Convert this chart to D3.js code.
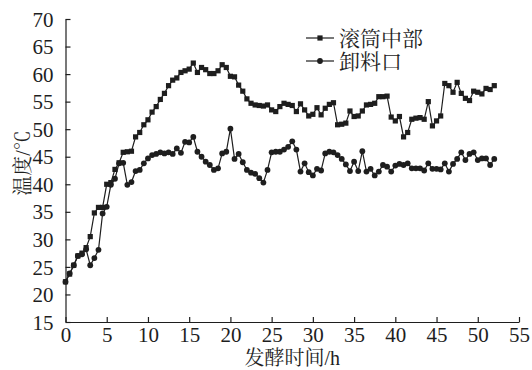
<!DOCTYPE html>
<html>
<head>
<meta charset="utf-8">
<script src="https://cdn.jsdelivr.net/npm/d3@7/dist/d3.min.js"></script>
<style>
  body { margin: 0; background: #fff; }
</style>
</head>
<body>
<svg id="chart"></svg>
<script>
// sampling times (h)
const hours = [
  0, 0.5, 1, 1.5, 2, 2.5, 3, 3.5, 4, 4.5, 5, 5.5, 6, 6.5, 7, 7.5, 8, 8.5, 9, 9.5,
  10, 10.5, 11, 11.5, 12, 12.5, 13, 13.5, 14, 14.5, 15, 15.5, 16, 16.5, 17, 17.5, 18, 18.5, 19, 19.5,
  20, 20.5, 21, 21.5, 22, 22.5, 23, 23.5, 24, 24.5, 25, 25.5, 26, 26.5, 27, 27.5, 28, 28.5, 29, 29.5,
  30, 30.5, 31, 31.5, 32, 32.5, 33, 33.5, 34, 34.5, 35, 35.5, 36, 36.5, 37, 37.5, 38, 38.5, 39, 39.5,
  40, 40.5, 41, 41.5, 42, 42.5, 43, 43.5, 44, 44.5, 45, 45.5, 46, 46.5, 47, 47.5, 48, 48.5, 49, 49.5,
  50, 50.5, 51, 51.5, 52
];

// 滚筒中部
const drumMiddle = [
  22.3, 23.7, 25.3, 27.0, 27.5, 28.5, 30.5, 34.8, 35.8, 35.8, 40.0, 40.3, 42.7, 43.9, 45.8, 45.9, 46.0, 48.6, 49.4, 50.8,
  51.7, 53.1, 54.1, 55.4, 56.5, 57.9, 58.9, 59.3, 60.3, 60.6, 60.9, 62.0, 60.3, 61.2, 60.8, 60.1, 60.1, 60.6, 61.7, 61.2,
  59.6, 59.5, 58.0, 56.9, 55.5, 54.7, 54.4, 54.3, 54.2, 54.4, 53.5, 53.2, 54.1, 54.7, 54.5, 54.3, 53.2, 54.6, 53.5, 52.4,
  52.7, 53.9, 52.6, 53.8, 54.5, 54.8, 50.8, 50.9, 51.1, 53.3, 52.3, 52.4, 53.3, 54.4, 54.5, 54.7, 55.9, 55.9, 56.0, 52.2,
  51.5, 52.3, 48.6, 49.4, 51.8, 52.0, 52.1, 51.8, 55.0, 50.6, 51.5, 52.4, 58.3, 57.9, 56.7, 58.5, 56.5, 55.6, 55.2, 56.9,
  56.7, 56.4, 57.4, 57.2, 57.9
];

// 卸料口
const outlet = [
  22.3, 23.8, 25.3, 27.0, 27.3, 28.2, 25.3, 26.6, 28.1, 34.7, 35.9, 39.9, 41.0, 43.8, 43.9, 39.9, 40.4, 42.4, 42.6, 43.8,
  44.7, 45.3, 45.5, 45.8, 45.6, 45.8, 45.5, 46.5, 45.7, 47.7, 47.6, 48.6, 45.9, 45.0, 44.1, 43.5, 42.6, 42.9, 45.6, 45.9,
  50.1, 44.6, 45.5, 44.0, 42.6, 42.1, 41.9, 41.1, 40.3, 42.6, 45.8, 45.9, 45.9, 46.3, 46.8, 47.8, 46.3, 42.3, 43.8, 42.2,
  41.6, 42.8, 42.5, 45.6, 45.9, 45.8, 45.3, 44.6, 43.6, 42.4, 44.1, 42.4, 46.0, 42.3, 42.8, 41.6, 42.3, 43.5, 43.2, 42.3,
  43.4, 43.7, 43.5, 43.8, 42.9, 42.9, 42.9, 42.5, 43.8, 42.8, 42.8, 42.7, 43.8, 42.3, 43.7, 44.6, 45.8, 44.4, 45.5, 45.8,
  44.4, 44.7, 44.7, 43.5, 44.6
];

const xTicks = [0, 5, 10, 15, 20, 25, 30, 35, 40, 45, 50, 55];
const yTicks = [15, 20, 25, 30, 35, 40, 45, 50, 55, 60, 65, 70];
const seriesNames = ['滚筒中部', '卸料口'];

const width = 532, height = 370;
const margin = { top: 19, right: 13, bottom: 48, left: 65.5 };
const ink = '#1e1e1e';
const font = "'Liberation Serif', 'Noto Serif CJK SC', serif";

const svg = d3.select('#chart')
  .attr('width', width)
  .attr('height', height);

const xScale = d3.scaleLinear()
  .domain([0, 55])
  .range([margin.left, width - margin.right]);

const yScale = d3.scaleLinear()
  .domain([15, 70])
  .range([height - margin.bottom, margin.top]);

// axes, ticks pointing into the plot
const xAxis = svg.append('g')
  .attr('transform', `translate(0,${yScale(15)})`)
  .call(d3.axisBottom(xScale).tickValues(xTicks).tickSizeInner(-5).tickSizeOuter(0).tickPadding(5));

const yAxis = svg.append('g')
  .attr('transform', `translate(${xScale(0)},0)`)
  .call(d3.axisLeft(yScale).tickValues(yTicks).tickSizeInner(-5).tickSizeOuter(0).tickPadding(12));

[xAxis, yAxis].forEach(ax => {
  ax.select('.domain').attr('stroke', ink).attr('stroke-width', 1.2);
  ax.selectAll('.tick line').attr('stroke', ink).attr('stroke-width', 1.2);
  ax.selectAll('.tick text')
    .style('font-family', font)
    .style('font-size', '21px')
    .attr('fill', ink);
});
xAxis.selectAll('.tick text').attr('dy', '0.72em');
yAxis.selectAll('.tick text').attr('dy', '0.34em');

svg.append('text')
  .style('font-family', font)
  .style('font-size', '20px')
  .attr('fill', ink)
  .attr('x', xScale(27.5))
  .attr('y', 365)
  .attr('text-anchor', 'middle')
  .text('发酵时间/h');

svg.append('text')
  .style('font-family', font)
  .style('font-size', '20px')
  .attr('fill', ink)
  .attr('transform', `translate(30,163) rotate(-90)`)
  .attr('text-anchor', 'middle')
  .text('温度/℃');

const line = d3.line()
  .x((d, i) => xScale(hours[i]))
  .y(d => yScale(d));

const drawSeries = (values, shape) => {
  svg.append('path')
    .datum(values)
    .attr('fill', 'none')
    .attr('stroke', ink)
    .attr('stroke-width', 1.2)
    .attr('d', line);

  const g = svg.append('g').attr('fill', ink);
  if (shape === 'square') {
    g.selectAll('rect')
      .data(values)
      .join('rect')
        .attr('x', (d, i) => xScale(hours[i]) - 2.6)
        .attr('y', d => yScale(d) - 2.6)
        .attr('width', 5.2)
        .attr('height', 5.2);
  } else {
    g.selectAll('circle')
      .data(values)
      .join('circle')
        .attr('cx', (d, i) => xScale(hours[i]))
        .attr('cy', d => yScale(d))
        .attr('r', 2.9);
  }
};

drawSeries(drumMiddle, 'square');
drawSeries(outlet, 'circle');

// legend
const legend = svg.append('g');
const legendRows = [
  { name: seriesNames[0], shape: 'square', y: 38 },
  { name: seriesNames[1], shape: 'circle', y: 61 }
];
legendRows.forEach(row => {
  legend.append('line')
    .attr('x1', 306).attr('x2', 334)
    .attr('y1', row.y).attr('y2', row.y)
    .attr('stroke', ink).attr('stroke-width', 1.2);
  if (row.shape === 'square') {
    legend.append('rect')
      .attr('x', 320 - 2.6).attr('y', row.y - 2.6)
      .attr('width', 5.2).attr('height', 5.2)
      .attr('fill', ink);
  } else {
    legend.append('circle')
      .attr('cx', 320).attr('cy', row.y).attr('r', 2.9)
      .attr('fill', ink);
  }
  legend.append('text')
    .style('font-family', font)
    .style('font-size', '21px')
    .attr('fill', ink)
    .attr('x', 339)
    .attr('y', row.y)
    .attr('dy', '0.36em')
    .text(row.name);
});
</script>
</body>
</html>
